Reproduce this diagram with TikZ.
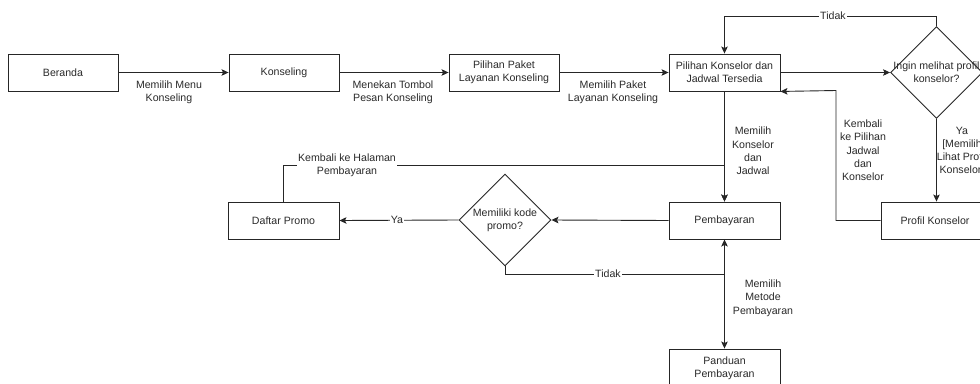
\documentclass[tikz,border=0pt]{standalone}
\usepackage{fontspec}
\setmainfont{Liberation Sans}
\usetikzlibrary{shapes.geometric,arrows.meta}
\definecolor{txtc}{HTML}{2A2A2A}
\tikzset{
  box/.style={draw=black!85, line width=0.9pt, minimum width=110pt, minimum height=37pt, inner sep=0pt, align=center, text=txtc, font=\fontsize{10.6}{13.3}\selectfont},
  dia/.style={draw=black!85, line width=0.9pt, diamond, minimum width=92pt, minimum height=92pt, inner sep=0pt},
  txt/.style={align=center, text=txtc, font=\fontsize{10.6}{13.3}\selectfont, inner sep=1pt},
  lbl/.style={txt, fill=white},
  conn/.style={draw=black!85, line width=0.9pt},
  arr/.style={conn, -{Stealth[length=7pt,width=6.5pt,inset=1.5pt]}}
}
\begin{document}
\begin{tikzpicture}[x=1pt,y=-1pt]
\useasboundingbox (0,0) rectangle (980,383);
\clip (0,0) rectangle (980,383);
\fill[white] (0,0) rectangle (980,383);
% nodes
\node[box] (beranda) at (63,72.5) {Beranda};
\node[box] (konseling) at (284,72.5) {Konseling};
\node[box] (paket) at (504,72.5) {Pilihan Paket\\Layanan Konseling};
\node[box, minimum width=111pt] (konselor) at (724.5,72.5) {Pilihan Konselor dan\\Jadwal Tersedia};
\node[dia] (ingin) at (936.5,72.5) {};
\node[txt] (ingintxt) at (ingin.center) {Ingin melihat profil\\konselor?};
\node[box, minimum width=108pt] (profil) at (935,220.5) {Profil Konselor};
\node[box, minimum width=111pt] (pembayaran) at (724.5,220.5) {Pembayaran};
\node[dia] (promo) at (505,220) {};
\node[txt] (promotxt) at (promo.center) {Memiliki kode\\promo?};
\node[box, minimum width=111pt] (daftar) at (283.5,220.5) {Daftar Promo};
\node[box, minimum width=111pt, minimum height=38pt] (panduan) at (724.5,368) {Panduan\\Pembayaran};
% coordinates
\coordinate (t1) at (936.5,16);
\coordinate (t2) at (724.5,16);
\coordinate (k1) at (836,220.5);
\coordinate (k2) at (836,90.5);
\coordinate (h1) at (283.5,165);
\coordinate (h2) at (724.5,165);
\coordinate (d1) at (505,274);
\coordinate (d2) at (724.5,274);
% connectors
\draw[arr] (beranda) -- (konseling);
\node[txt] (l1) at (169,92) {Memilih Menu\\Konseling};
\draw[arr] (konseling) -- (paket);
\node[txt] (l2) at (393,92) {Menekan Tombol\\Pesan Konseling};
\draw[arr] (paket) -- (konselor);
\node[txt] (l3) at (613,92) {Memilih Paket\\Layanan Konseling};
\draw[arr] (konselor) -- (ingin.west);
\draw[arr] (ingin.north) -- (t1) -- (t2) -- (konselor.north);
\node[lbl] (l4) at (833,16) {Tidak};
\draw[arr] (ingin.south) -- (profil.north -| ingin.south);
\node[txt] (l5) at (962,151.5) {Ya\\{[Memilih}\\Lihat Profil\\Konselor]};
\draw[arr] (profil.west) -- (k1) -- (k2) -- (konselor.south east);
\node[txt] (l6) at (863,150.5) {Kembali\\ke Pilihan\\Jadwal\\dan\\Konselor};
\draw[arr] (konselor.south) -- (pembayaran.north);
\node[txt] (l7) at (753,151) {Memilih\\Konselor\\dan\\Jadwal};
\draw[arr] (daftar.north) -- (h1) -- (h2) -- (pembayaran.north);
\node[lbl] (l8) at (347,165) {Kembali ke Halaman\\Pembayaran};
\draw[arr] (pembayaran.west) -- (promo.east);
\draw[arr] (promo.west) -- (daftar.east);
\node[lbl] (l9) at (397,220) {Ya};
\draw[arr] (promo.south) -- (d1) -- (d2) -- (pembayaran.south);
\node[lbl] (l10) at (608,274) {Tidak};
\draw[arr] (pembayaran.south) -- (panduan.north);
\node[txt] (l11) at (763,298) {Memilih\\Metode\\Pembayaran};
\end{tikzpicture}
\end{document}
